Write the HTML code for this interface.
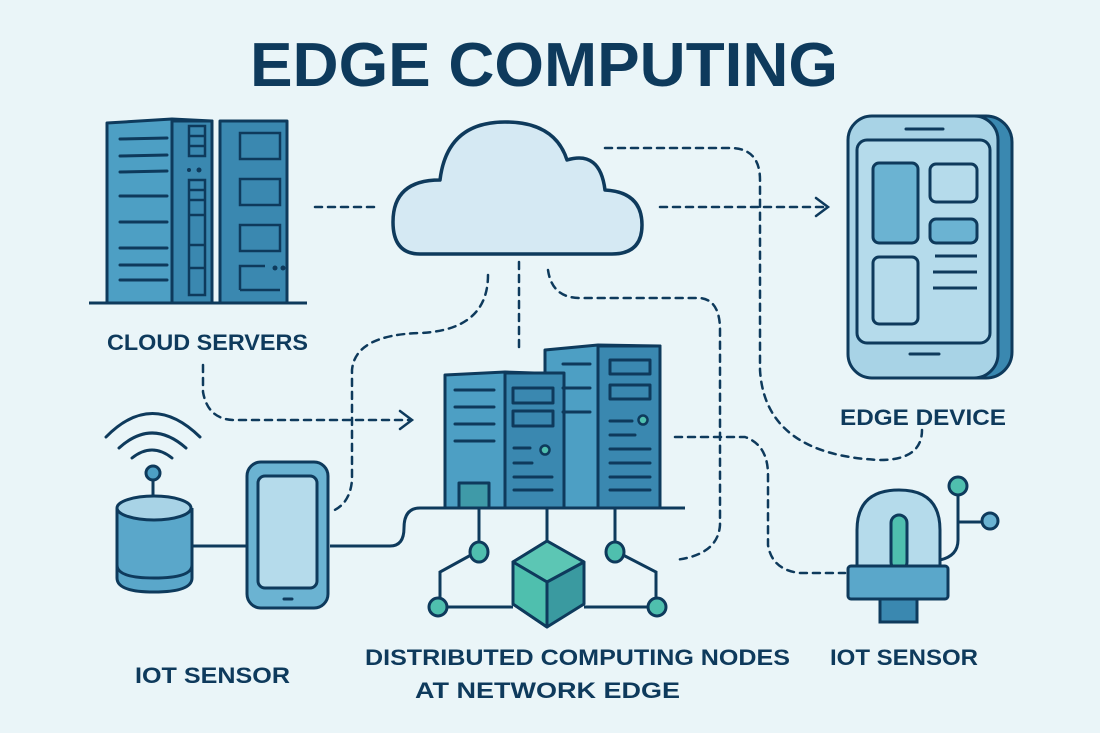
<!DOCTYPE html>
<html><head><meta charset="utf-8"><style>
html,body{margin:0;padding:0;background:#eaf5f8;}
svg{display:block}
text{font-family:"Liberation Sans",sans-serif;font-weight:bold;fill:#0e3a5c}
</style></head><body>
<svg width="1100" height="733" viewBox="0 0 1100 733" xmlns="http://www.w3.org/2000/svg">
<rect width="1100" height="733" fill="#eaf5f8"/>
<text x="250" y="86" font-size="62" textLength="588" lengthAdjust="spacingAndGlyphs">EDGE COMPUTING</text>

<g fill="none" stroke="#0e3a5c" stroke-width="2.5" stroke-dasharray="7 6" stroke-linecap="round">
<path d="M315 207 H377"/>
<path d="M660 207 H826"/>
<path d="M605 148 H730 Q760 148 760 180 V370 Q765 455 880 460 Q922 460 922 430"/>
<path d="M519 262 V352"/>
<path d="M488 275 Q488 330 420 333 Q355 335 352 370 V480 Q350 505 330 512"/>
<path d="M548 270 Q552 298 580 298 H700 Q720 300 720 330 V525 Q718 555 675 560"/>
<path d="M675 437 H745 Q768 445 768 475 V545 Q772 570 800 573 H845"/>
<path d="M203 365 V392 Q208 420 235 420 H410"/>
</g>
<g fill="none" stroke="#0e3a5c" stroke-width="2.5" stroke-linecap="round">
<path d="M816 198 L828 207 L816 216"/>
<path d="M400 411 L412 420 L400 429"/>
</g>

<!-- cloud servers -->
<g stroke="#0e3a5c" stroke-width="3" stroke-linejoin="round">
<path d="M107 123 L172 119 L212 121 V303 H107 Z" fill="#4d9fc4"/>
<rect x="172" y="121" width="40" height="182" fill="#3a88b0"/>
<rect x="220" y="121" width="67" height="182" fill="#3a88b0"/>
<line x1="89" y1="303" x2="307" y2="303"/>
</g>
<g stroke="#0e3a5c" stroke-width="3" stroke-linecap="round">
<line x1="120" y1="139" x2="167" y2="138"/><line x1="120" y1="156" x2="167" y2="155"/><line x1="120" y1="172" x2="167" y2="171"/>
<line x1="120" y1="196" x2="167" y2="196"/><line x1="120" y1="222" x2="167" y2="222"/>
<line x1="120" y1="248" x2="167" y2="248"/><line x1="120" y1="265" x2="167" y2="265"/><line x1="120" y1="280" x2="167" y2="280"/>
</g>
<g stroke="#0e3a5c" stroke-width="2.5" fill="#3a88b0">
<rect x="189" y="126" width="16" height="30"/><line x1="189" y1="136" x2="205" y2="136"/><line x1="189" y1="146" x2="205" y2="146"/>
<rect x="189" y="180" width="16" height="115"/><line x1="189" y1="190" x2="205" y2="190"/><line x1="189" y1="200" x2="205" y2="200"/><line x1="189" y1="215" x2="205" y2="215"/><line x1="189" y1="245" x2="205" y2="245"/><line x1="189" y1="268" x2="205" y2="268"/>
<rect x="240" y="133" width="40" height="26"/><rect x="240" y="179" width="40" height="26"/><rect x="240" y="225" width="40" height="26"/>
<path d="M240 290 V266 H265 M240 290 H280" fill="none"/>
</g>
<circle cx="189" cy="170" r="2" fill="#0e3a5c"/><circle cx="199" cy="170" r="2.5" fill="#0e3a5c"/>
<circle cx="275" cy="268" r="2.5" fill="#0e3a5c"/><circle cx="283" cy="268" r="2.5" fill="#0e3a5c"/>
<text x="107" y="350" font-size="22" textLength="201" lengthAdjust="spacingAndGlyphs">CLOUD SERVERS</text>

<!-- cloud -->
<path d="M420 254 Q393 254 393 222 Q393 180 440 180 Q447 122 505 122 Q555 122 567 160 Q600 150 605 190 Q642 192 642 225 Q642 254 612 254 Z" fill="#d5e9f3" stroke="#0e3a5c" stroke-width="3.5" stroke-linejoin="round"/>

<!-- edge device -->
<rect x="858" y="116" width="154" height="262" rx="26" fill="#3a88b0" stroke="#0e3a5c" stroke-width="3"/>
<rect x="848" y="116" width="150" height="262" rx="24" fill="#a8d3e6" stroke="#0e3a5c" stroke-width="3"/>
<line x1="906" y1="129" x2="943" y2="129" stroke="#0e3a5c" stroke-width="3" stroke-linecap="round"/>
<line x1="910" y1="354" x2="939" y2="354" stroke="#0e3a5c" stroke-width="3" stroke-linecap="round"/>
<rect x="857" y="140" width="133" height="203" rx="10" fill="#b5dbeb" stroke="#0e3a5c" stroke-width="3"/>
<g stroke="#0e3a5c" stroke-width="3">
<rect x="873" y="163" width="45" height="80" rx="6" fill="#6bb3d2"/>
<rect x="930" y="164" width="47" height="38" rx="6" fill="#b5dbeb"/>
<rect x="930" y="219" width="47" height="24" rx="6" fill="#6bb3d2"/>
<rect x="873" y="257" width="45" height="67" rx="6" fill="#b5dbeb"/>
<line x1="935" y1="256" x2="977" y2="256"/><line x1="933" y1="272" x2="977" y2="272"/><line x1="933" y1="288" x2="977" y2="288"/>
</g>
<text x="840" y="425" font-size="22" textLength="166" lengthAdjust="spacingAndGlyphs">EDGE DEVICE</text>

<!-- edge servers -->
<g stroke="#0e3a5c" stroke-width="3" stroke-linejoin="round">
<path d="M545 350 L598 345 L660 346 V508 H545 Z" fill="#4d9fc4"/>
<rect x="598" y="346" width="62" height="162" fill="#3a88b0"/>
<path d="M445 375 L505 372 L564 374 V508 H445 Z" fill="#4d9fc4"/>
<rect x="505" y="373" width="59" height="135" fill="#3a88b0"/>
<rect x="459" y="483" width="30" height="25" fill="#3f9aa8"/>
<rect x="513" y="388" width="40" height="15" fill="#3a88b0"/>
<rect x="513" y="411" width="40" height="15" fill="#3a88b0"/>
<rect x="610" y="360" width="40" height="14" fill="#3a88b0"/>
<rect x="610" y="385" width="40" height="14" fill="#3a88b0"/>
</g>
<g stroke="#0e3a5c" stroke-width="3" stroke-linecap="round">
<line x1="455" y1="390" x2="494" y2="390"/><line x1="455" y1="407" x2="494" y2="407"/><line x1="455" y1="424" x2="494" y2="424"/><line x1="455" y1="441" x2="494" y2="441"/>
<line x1="514" y1="448" x2="530" y2="448"/><line x1="514" y1="463" x2="532" y2="463"/><line x1="514" y1="477" x2="552" y2="477"/><line x1="514" y1="490" x2="552" y2="490"/>
<line x1="563" y1="364" x2="590" y2="364"/><line x1="563" y1="388" x2="590" y2="388"/><line x1="563" y1="412" x2="590" y2="412"/>
<line x1="610" y1="421" x2="632" y2="421"/><line x1="610" y1="435" x2="635" y2="435"/><line x1="610" y1="449" x2="650" y2="449"/><line x1="610" y1="463" x2="650" y2="463"/><line x1="610" y1="477" x2="650" y2="477"/><line x1="610" y1="490" x2="650" y2="490"/>
</g>
<circle cx="545" cy="450" r="4.5" fill="#4fbfae" stroke="#0e3a5c" stroke-width="2.5"/>
<circle cx="643" cy="420" r="4.5" fill="#4fbfae" stroke="#0e3a5c" stroke-width="2.5"/>
<g fill="none" stroke="#0e3a5c" stroke-width="3">
<path d="M330 546 H390 Q404 546 404 528 Q404 508 420 508 H685"/>
<path d="M479 508 V545"/><path d="M547 508 V540"/><path d="M615 508 V545"/>
<path d="M471 555 L440 572 V600"/><path d="M623 555 L656 572 V600"/>
<path d="M438 607 H513 M584 607 H657"/>
<path d="M192 546 H247"/>
</g>
<g fill="#4fbfae" stroke="#0e3a5c" stroke-width="3">
<ellipse cx="479" cy="552" rx="9" ry="10"/><ellipse cx="615" cy="552" rx="9" ry="10"/>
<circle cx="438" cy="607" r="9"/><circle cx="657" cy="607" r="9"/>
</g>
<g stroke="#0e3a5c" stroke-width="3" stroke-linejoin="round">
<path d="M513 562 L547 541 L584 562 L584 604 L547 627 L513 604 Z" fill="#3a9aa0"/>
<path d="M513 562 L547 582 L584 562 L547 541 Z" fill="#5cc6b4"/>
<path d="M513 562 L547 582 L547 627 L513 604 Z" fill="#4fbfae"/>
</g>
<text x="365" y="665" font-size="22" textLength="425" lengthAdjust="spacingAndGlyphs">DISTRIBUTED COMPUTING NODES</text>
<text x="415" y="698" font-size="22" textLength="265" lengthAdjust="spacingAndGlyphs">AT NETWORK EDGE</text>

<!-- iot sensor left -->
<g fill="none" stroke="#0e3a5c" stroke-width="3" stroke-linecap="round">
<path d="M106 437 Q152 390 200 437"/><path d="M119 448 Q152 418 186 448"/><path d="M132 458 Q152 442 172 458"/>
<line x1="153" y1="478" x2="153" y2="508"/>
</g>
<circle cx="153" cy="473" r="7" fill="#4d9fc4" stroke="#0e3a5c" stroke-width="3"/>
<g stroke="#0e3a5c" stroke-width="3">
<path d="M117 508 V578 Q117 592 154 592 Q192 592 192 578 V508" fill="#5aa7ca"/>
<path d="M117 565 Q117 578 154 578 Q192 578 192 565" fill="none"/>
<ellipse cx="154" cy="508" rx="37" ry="12" fill="#a8d3e6"/>
</g>
<rect x="247" y="462" width="81" height="146" rx="14" fill="#6bb3d2" stroke="#0e3a5c" stroke-width="3"/>
<rect x="258" y="476" width="59" height="112" rx="7" fill="#b5dbeb" stroke="#0e3a5c" stroke-width="3"/>
<line x1="284" y1="599" x2="292" y2="599" stroke="#0e3a5c" stroke-width="3" stroke-linecap="round"/>
<text x="135" y="683" font-size="22" textLength="155" lengthAdjust="spacingAndGlyphs">IOT SENSOR</text>

<!-- iot sensor right -->
<g fill="none" stroke="#0e3a5c" stroke-width="3">
<path d="M940 560 Q958 556 958 540 V494"/><path d="M958 522 H985"/>
</g>
<circle cx="958" cy="486" r="9" fill="#4fbfae" stroke="#0e3a5c" stroke-width="3"/>
<circle cx="990" cy="521" r="8" fill="#6bb3d2" stroke="#0e3a5c" stroke-width="3"/>
<path d="M857 566 V530 Q857 490 899 490 Q940 490 940 530 V566 Z" fill="#b5dbeb" stroke="#0e3a5c" stroke-width="3"/>
<rect x="891" y="515" width="16" height="55" rx="8" fill="#4fbfae" stroke="#0e3a5c" stroke-width="3"/>
<rect x="880" y="598" width="37" height="24" fill="#3a88b0" stroke="#0e3a5c" stroke-width="3"/>
<rect x="848" y="566" width="100" height="33" rx="3" fill="#5aa7ca" stroke="#0e3a5c" stroke-width="3"/>
<text x="830" y="665" font-size="22" textLength="148" lengthAdjust="spacingAndGlyphs">IOT SENSOR</text>
</svg>
</body></html>
